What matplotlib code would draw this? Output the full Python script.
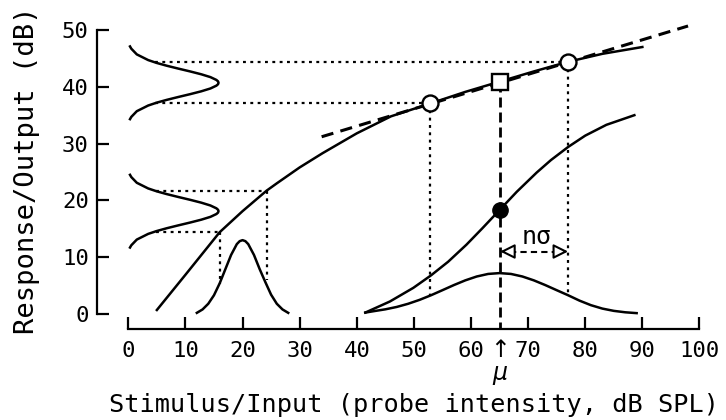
import matplotlib.pyplot as plt

# compressive input/output function
io_x = [5, 10, 16, 20, 24.2, 26, 30, 34, 40, 46, 53, 59, 65, 71, 77, 83, 90]
io_y = [0.7, 6.9, 14.4, 18.1, 21.7, 23.0, 25.8, 28.3, 31.8, 34.8, 37.1, 39.1, 40.9, 42.7, 44.4, 45.8, 47.0]

# tangent at mu
tan_x = [33.85, 98.0]
tan_y = [31.2, 50.7]

# psychometric-like curve
sig_x = [41.5, 45.8, 49.9, 53, 56, 59.2, 62, 65, 68, 71.5, 74, 77, 80, 83.7, 88.6]
sig_y = [0.25, 2.2, 4.6, 6.8, 9.2, 12.2, 15.1, 18.3, 21.5, 24.9, 27.1, 29.4, 31.4, 33.3, 35.0]

# broad input distribution around mu
wide_x = [41.5, 43, 45, 47, 49, 51, 53, 55, 57, 59, 61, 63, 65,
          67, 69, 71, 73, 75, 77, 79, 81, 83, 85, 87, 89]
wide_y = [0.25, 0.5, 0.82, 1.24, 1.8, 2.49, 3.3, 4.19, 5.09, 5.92, 6.6, 7.05, 7.2,
          7.05, 6.6, 5.92, 5.09, 4.19, 3.3, 2.35, 1.55, 0.95, 0.55, 0.3, 0.15]

# narrow input distribution at 20 dB
narrow_x = [12, 13, 14, 15, 16, 17, 18, 19, 19.5, 20, 20.5, 21, 22, 23, 24, 25, 26, 27, 28]
narrow_y = [0.2, 0.8, 1.8, 3.3, 5.4, 7.9, 10.4, 12.3, 12.82, 13.0, 12.82, 12.3, 10.4, 7.9, 5.6, 3.4, 1.8, 0.8, 0.2]

# output distributions (drawn sideways), offsets from their centres
out_dy = [-6.4, -6, -5, -4, -3.5, -3, -2.5, -2, -1.5, -1, -0.5, -0.25, 0,
          0.25, 0.5, 1, 1.5, 2, 2.5, 3, 3.5, 4, 5, 6, 6.4]
out_dx = [0.3, 0.53, 1.49, 3.48, 4.96, 6.75, 8.75, 10.83, 12.77, 14.38, 15.43, 15.71, 15.8,
          15.71, 15.43, 14.38, 12.77, 10.83, 8.75, 6.75, 4.96, 3.48, 1.49, 0.53, 0.3]
out_centres = [18.1, 40.7]

# projection points
low_in = [16.05, 24.2]
low_out = [14.5, 21.7]
low_pdf = [5.3, 6.0]
high_in = [52.9, 77.0]
high_out = [37.1, 44.4]
high_pdf = [3.4, 3.2]
edge_x = 4.85
mu_x, mu_y = 65.1, 40.9
dot_y = 18.3
arrow_y = 11.0

plt.rcParams['font.family'] = ['DejaVu Sans Mono', 'DejaVu Sans']

fig = plt.figure(figsize=(7.26, 4.2), dpi=100)
ax = fig.add_axes([0.1336, 0.2167, 0.8456, 0.739])
ax.set_xlim(-5.48, 102)
ax.set_ylim(-2.64, 52)

lw = 1.8
dots = (0, (1.3, 2.0))

ax.plot(io_x, io_y, color='k', lw=lw)
ax.plot(tan_x, tan_y, color='k', lw=2.2, linestyle=(0, (4, 2.4)))
ax.plot(sig_x, sig_y, color='k', lw=lw)
ax.plot(wide_x, wide_y, color='k', lw=lw)
ax.plot(narrow_x, narrow_y, color='k', lw=lw)
for c in out_centres:
    ax.plot(out_dx, [c + d for d in out_dy], color='k', lw=lw)

# dotted projections
for xi, yo, yp in zip(low_in, low_out, low_pdf):
    ax.plot([edge_x, xi], [yo, yo], color='k', lw=1.6, linestyle=dots)
    ax.plot([xi, xi], [yo, yp], color='k', lw=1.6, linestyle=dots)
for xi, yo, yp in zip(high_in, high_out, high_pdf):
    ax.plot([edge_x - 0.1, xi], [yo, yo], color='k', lw=1.6, linestyle=dots)
    ax.plot([xi, xi], [yo, yp], color='k', lw=1.6, linestyle=dots)

# mu line
ax.plot([mu_x, mu_x], [mu_y, -2.64], color='k', lw=2.0, linestyle=(0, (3.6, 1.8)))

# n sigma arrow
ax.plot([66.8, 75.3], [arrow_y, arrow_y], color='k', lw=1.5, linestyle=(0, (3, 2)))
for tip, tail in [(mu_x, 67.4), (high_in[1], 74.7)]:
    ax.annotate('', xy=(tip, arrow_y), xytext=(tail, arrow_y),
                arrowprops=dict(arrowstyle='-|>', fc='white', ec='k', lw=1.5,
                                shrinkA=0, shrinkB=0, mutation_scale=22))
ax.text(71.5, 13.6, 'nσ', ha='center', va='center', fontsize=18)

# markers
ax.plot(high_in, high_out, 'o', ms=11.5, mfc='white', mec='k', mew=1.7, zorder=5)
ax.plot([mu_x], [mu_y], 's', ms=11, mfc='white', mec='k', mew=1.7, zorder=5)
ax.plot([mu_x], [dot_y], 'o', ms=11, mfc='k', mec='k', zorder=5)

# axes styling
for s in ['top', 'right']:
    ax.spines[s].set_visible(False)
ax.spines['left'].set_bounds(0, 50)
ax.spines['bottom'].set_bounds(0, 100)
ax.spines['left'].set_linewidth(1.6)
ax.spines['bottom'].set_linewidth(1.6)
ax.set_xticks(range(0, 101, 10))
ax.set_yticks(range(0, 51, 10))
ax.tick_params(direction='in', length=8.5, width=1.6, labelsize=16)
ax.tick_params(axis='x', pad=9)
ax.tick_params(axis='y', pad=6)

# mu marker below the axis: arrow and symbol as one text block
ax.text(mu_x, -4.2, '↑\n$\\mu$', ha='center', va='top', fontsize=17,
        linespacing=0.95, family='DejaVu Sans')

ax.set_xlabel('Stimulus/Input (probe intensity, dB SPL)', fontsize=18.2)
ax.xaxis.set_label_coords(0.5162, -0.206)
ax.set_ylabel('Response/Output (dB)', fontsize=19.5)
ax.yaxis.set_label_coords(-0.093, 0.512)

fig.savefig('out.png', dpi=100)
